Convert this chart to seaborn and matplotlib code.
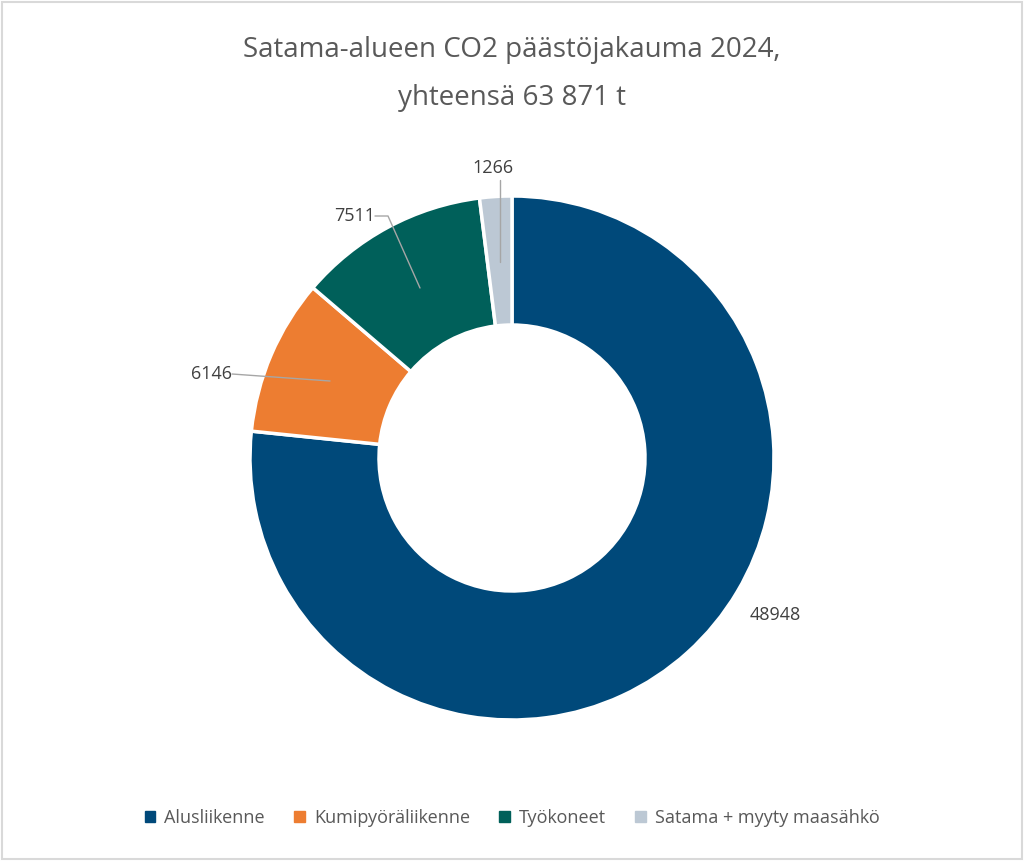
import matplotlib
matplotlib.use("Agg")
import matplotlib.pyplot as plt
import seaborn as sns
from matplotlib.patches import Rectangle

categories = ["Alusliikenne", "Kumipyöräliikenne", "Työkoneet", "Satama + myyty maasähkö"]
values = [48948, 6146, 7511, 1266]
colors = ["#00497A", "#ED7D31", "#00605A", "#BCC8D4"]

sns.set_theme(style="white", font="Open Sans")
fig = plt.figure(figsize=(10.24, 8.61), dpi=100)
ax = fig.add_axes([0, 0, 1, 1])
ax.set_xlim(0, 1024); ax.set_ylim(0, 861); ax.axis("off")
H = 861
cx, cy, R = 512, H - 458, 262
wedges, _ = ax.pie(values, colors=colors, startangle=90, counterclock=False,
                   center=(cx, cy), radius=R, frame=True,
                   wedgeprops=dict(width=R - 133, edgecolor="white", linewidth=2.5))
ax.set_xlim(0, 1024); ax.set_ylim(0, 861); ax.axis("off")

tc = "#404040"
fig.text(0.5, 1 - 50 / H, "Satama-alueen CO2 päästöjakauma 2024,", ha="center", va="center", fontsize=20, color="#595959")
fig.text(0.5, 1 - 98 / H, "yhteensä 63 871 t", ha="center", va="center", fontsize=20, color="#595959")

lab = [(str(values[0]), 775, 615, None),
       (str(values[1]), 212, 374, [(232, 374), (330, 381)]),
       (str(values[2]), 355, 216, [(375, 216), (388, 216), (420, 288)]),
       (str(values[3]), 493, 168, [(500, 180), (500, 262)])]
for t, x, y, line in lab:
    ax.text(x, H - y, t, ha="center", va="center", fontsize=13, color=tc)
    if line:
        ax.plot([p[0] for p in line], [H - p[1] for p in line], color="#A6A6A6", lw=1)

handles = [Rectangle((0, 0), 1, 1, color=c) for c in colors]
fig.legend(handles, categories, loc="center", bbox_to_anchor=(0.5, 1 - 818 / H), ncol=4,
           frameon=False, fontsize=13, handlelength=0.6, handleheight=0.6,
           columnspacing=1.6, handletextpad=0.5, labelcolor="#595959")
fig.patches.append(Rectangle((0.002, 0.002), 0.996, 0.996, transform=fig.transFigure,
                             fill=False, edgecolor="#D9D9D9", lw=1.5))
fig.savefig("out.png", dpi=100)
